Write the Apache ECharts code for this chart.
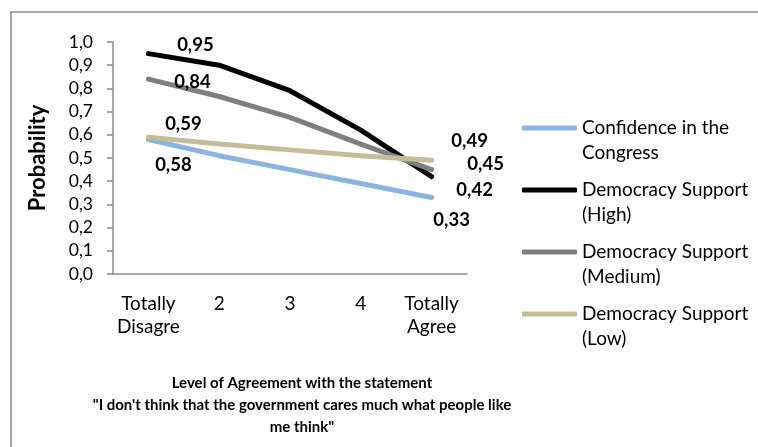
<!DOCTYPE html>
<html>
<head>
<meta charset="utf-8">
<script src="https://cdn.jsdelivr.net/npm/echarts@6/dist/echarts.min.js"></script>
<style>html,body{margin:0;padding:0;background:#fff}#c{width:758px;height:447px}</style>
</head>
<body>
<div id="c"></div>
<script>
var categories = ['Totally\nDisagre', '2', '3', '4', 'Totally\nAgree'];
var yTicks = ['0,0','0,1','0,2','0,3','0,4','0,5','0,6','0,7','0,8','0,9','1,0'];
var seriesNames = ['Confidence in the\nCongress', 'Democracy Support\n(High)', 'Democracy Support\n(Medium)', 'Democracy Support\n(Low)'];
var confidence = [0.58, 0.51, 0.45, 0.39, 0.33];
var demHigh = [0.95, 0.90, 0.79, 0.62, 0.42];
var demMedium = [0.84, 0.765, 0.675, 0.56, 0.45];
var demLow = [0.59, 0.56, 0.535, 0.51, 0.49];

var FONT = 'Lato';
var colors = ['#8db3e2', '#000000', '#7f7f7f', '#c4bd97'];
// label offsets for first / last points [first, last]
var labelOffsets = [
  [[25, 26], [20, 23]],
  [[47, -9], [43, 13]],
  [[44, 3], [54, -6]],
  [[35, -13], [38, -19]]
];
var allData = [confidence, demHigh, demMedium, demLow];

function fmt(v) { return v.toFixed(2).replace('.', ','); }

var series = allData.map(function (arr, si) {
  return {
    name: seriesNames[si],
    type: 'line',
    symbol: 'circle',
    symbolSize: 0,
    showSymbol: true,
    itemStyle: { color: colors[si] },
    lineStyle: { color: colors[si], width: 5, cap: 'round' },
    emphasis: { disabled: true },
    data: arr.map(function (v, i) {
      var item = { value: v };
      if (i === 0 || i === arr.length - 1) {
        var off = labelOffsets[si][i === 0 ? 0 : 1];
        item.label = {
          show: true, position: 'inside', offset: off,
          formatter: function (p) { return fmt(p.value); },
          fontFamily: FONT, fontWeight: 'bold', fontSize: 18.5, color: '#000'
        };
      }
      return item;
    })
  };
});

var chart = echarts.init(document.getElementById('c'), null, { renderer: 'canvas' });
chart.setOption({
  animation: false,
  backgroundColor: '#fff',
  textStyle: { fontFamily: FONT },
  grid: { left: 113, right: 291, top: 42, bottom: 173, containLabel: false },
  legend: {
    orient: 'vertical',
    left: 522,
    top: 90.5,
    padding: 0,
    itemGap: -13,
    itemWidth: 55,
    itemHeight: 5,
    icon: 'roundRect',
    formatter: function (name) { return '\n' + name; },
    data: seriesNames.map(function (n, i) { return { name: n, itemStyle: { color: colors[i] } }; }),
    textStyle: { fontFamily: FONT, fontSize: 19, color: '#000', lineHeight: 25 },
    selectedMode: false
  },
  xAxis: {
    type: 'category',
    data: categories,
    boundaryGap: true,
    axisLine: { lineStyle: { color: '#8c8c8c', width: 1.5 } },
    axisTick: { show: false },
    axisLabel: { color: '#000', fontFamily: FONT, fontSize: 19, lineHeight: 23, margin: 18, interval: 0 }
  },
  yAxis: {
    type: 'value',
    min: 0, max: 1, interval: 0.1,
    name: 'Probability',
    nameLocation: 'middle',
    nameGap: 64,
    nameTextStyle: { fontFamily: FONT, fontWeight: 'bold', fontSize: 22, color: '#000' },
    axisLine: { show: true, lineStyle: { color: '#8c8c8c', width: 1.5 } },
    axisTick: { show: true, length: 6, lineStyle: { color: '#8c8c8c', width: 1.5 } },
    splitLine: { show: false },
    axisLabel: {
      color: '#000', fontFamily: FONT, fontSize: 17.5, margin: 20,
      formatter: function (v) { return yTicks[Math.round(v * 10)]; }
    }
  },
  graphic: [
    { type: 'rect', silent: true, z: -1, shape: { x: 11, y: 12, width: 800, height: 500 },
      style: { fill: 'none', stroke: '#8c8c8c', lineWidth: 1.5 } },
    { type: 'text', x: 302, y: 372, silent: true,
      style: { text: 'Level of Agreement with the statement\n"I don\'t think that the government cares much what people like\nme think"',
        align: 'center', verticalAlign: 'top', lineHeight: 22, fontFamily: FONT, fontWeight: 'bold', fontSize: 15, fill: '#000' } }
  ],
  series: series
});
</script>
</body>
</html>
